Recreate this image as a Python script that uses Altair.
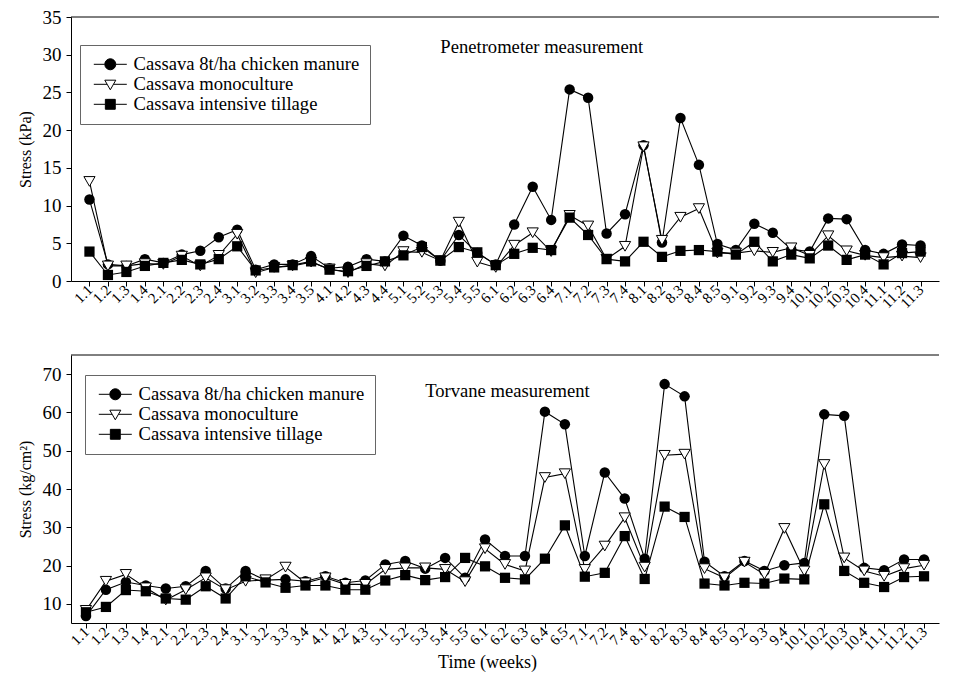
import altair as alt
import pandas as pd

SERIES = ["Cassava 8t/ha chicken manure", "Cassava monoculture", "Cassava intensive tillage"]

# ---- Penetrometer (top) ----
top_labels = ["1.1","1.2","1.3","1.4","2.1","2.2","2.3","2.4","3.1","3.2","3.3","3.4","3.5",
              "4.1","4.2","4.3","4.4","5.1","5.2","5.3","5.4","5.5","6.1","6.2","6.3","6.4",
              "7.1","7.2","7.3","7.4","8.1","8.2","8.3","8.4","8.5","9.1","9.2","9.3","9.4",
              "10.1","10.2","10.3","10.4","11.1","11.2","11.3"]
top_manure = [10.8, 2.2, 2.0, 2.9, 2.4, 3.5, 4.0, 5.8, 6.8, 1.5, 2.2, 2.2, 3.3,
              1.7, 1.9, 2.9, 2.6, 6.0, 4.7, 2.7, 6.1, 3.7, 2.2, 7.5, 12.5, 8.1,
              25.4, 24.3, 6.3, 8.85, 18.0, 5.1, 21.6, 15.4, 4.9, 4.1, 7.6, 6.4, 4.2,
              3.9, 8.3, 8.2, 4.1, 3.6, 4.85, 4.7]
top_mono = [13.2, 2.0, 2.0, 2.3, 2.2, 3.3, 2.0, 3.4, 6.2, 1.1, 1.8, 2.0, 2.5,
            1.6, 1.1, 2.3, 2.0, 3.9, 3.8, 2.7, 7.8, 2.5, 1.8, 4.75, 6.4, 3.9,
            8.7, 7.3, 2.9, 4.6, 17.8, 5.4, 8.45, 9.6, 3.7, 3.7, 4.0, 3.8, 4.4,
            3.4, 6.0, 4.0, 3.4, 3.1, 3.3, 3.1]
top_tillage = [3.9, 0.8, 1.2, 2.0, 2.4, 2.8, 2.2, 2.9, 4.6, 1.4, 1.8, 2.1, 2.6,
               1.5, 1.3, 2.0, 2.6, 3.4, 4.5, 2.7, 4.5, 3.8, 2.1, 3.6, 4.4, 4.1,
               8.4, 6.1, 2.9, 2.6, 5.2, 3.2, 4.0, 4.1, 3.9, 3.5, 5.2, 2.6, 3.5,
               3.0, 4.7, 2.8, 3.5, 2.2, 3.7, 3.9]

# ---- Torvane (bottom) ----
bot_labels = ["1.1","1.2","1.3","1.4","2.1","2.2","2.3","2.4","3.1","3.2","3.3","3.4",
              "4.1","4.2","4.3","5.1","5.2","5.3","5.4","5.5","6.1","6.2","6.3","6.4","6.5",
              "7.1","7.2","7.4","8.1","8.2","8.3","8.4","8.5","9.2","9.3","9.4",
              "10.1","10.2","10.3","10.4","11.1","11.2","11.3"]
bot_manure = [6.8, 13.7, 15.7, 14.8, 14.0, 14.6, 18.6, 14.0, 18.6, 16.2, 16.4, 15.9,
              17.2, 15.5, 16.1, 20.3, 21.2, 19.2, 22.0, 16.8, 26.8, 22.5, 22.5, 60.2, 56.9,
              22.5, 44.3, 37.5, 21.8, 67.4, 64.2, 21.0, 17.2, 21.2, 18.6, 20.1,
              20.7, 59.5, 59.1, 19.4, 18.8, 21.6, 21.6]
bot_mono = [8.3, 15.9, 17.7, 14.2, 11.0, 13.7, 16.8, 13.7, 15.9, 16.3, 19.6, 15.5,
            16.8, 15.1, 15.1, 19.0, 19.4, 19.4, 19.0, 15.8, 24.4, 20.3, 18.6, 43.0, 44.0,
            19.0, 25.1, 32.5, 19.6, 48.8, 49.1, 19.2, 16.8, 20.9, 17.7, 29.7,
            18.6, 46.4, 22.0, 18.6, 17.2, 19.2, 20.1]
bot_tillage = [7.8, 9.2, 13.6, 13.3, 11.4, 11.1, 14.6, 11.4, 17.2, 15.6, 14.2, 14.8,
               14.8, 13.7, 13.7, 16.1, 17.5, 16.2, 17.0, 22.0, 19.8, 16.8, 16.4, 21.8, 30.5,
               17.1, 18.1, 27.7, 16.5, 35.4, 32.7, 15.3, 14.8, 15.5, 15.3, 16.6,
               16.4, 36.0, 18.6, 15.5, 14.4, 17.0, 17.2]

FONT = "Liberation Serif"

LEGEND_PATHS = [
    "M-3,0H-1M1,0A1,1 0 1,1 -1,0A1,1 0 1,1 1,0ZM1,0H3",
    "M-3,0H-0.6M-1,-0.75L1,-0.75L0,1ZM0.6,0H3",
    "M-3,0H-0.9M-0.9,-0.9H0.9V0.9H-0.9ZM0.9,0H3",
]


def long_frame(labels, a, b, c):
    rows = []
    for s, vals in zip(SERIES, [a, b, c]):
        for lab, v in zip(labels, vals):
            rows.append({"label": lab, "value": v, "series": s})
    return pd.DataFrame(rows)


def panel(labels, a, b, c, ydom, yvals, ytitle, xtitle, note, note_x, note_y,
          width, height, pad, leg_x, leg_y):
    df = long_frame(labels, a, b, c)
    axis_kw = dict(labelAngle=-45, labelAlign="right", labelBaseline="middle",
                   labelFontSize=15, labelPadding=1, tickSize=5)
    if xtitle:
        xaxis = alt.Axis(title=xtitle, titleFontSize=18, titleFontWeight="normal",
                         titlePadding=0, titleX=416, **axis_kw)
    else:
        xaxis = alt.Axis(title=None, **axis_kw)
    x = alt.X("label:N", scale=alt.Scale(type="point", domain=labels, padding=pad), axis=xaxis)
    y = alt.Y("value:Q", scale=alt.Scale(domain=ydom, nice=False, zero=False),
              axis=alt.Axis(values=yvals, title=ytitle, titleFontSize=16,
                            titleFontWeight="normal", labelFontSize=19, tickSize=5,
                            labelPadding=5, titlePadding=9))
    base = alt.Chart(df)
    lines = base.mark_line(color="black", strokeWidth=1.1).encode(x=x, y=y, detail="series:N")
    p1 = base.transform_filter(alt.datum.series == SERIES[0]).mark_point(
        shape="circle", filled=True, color="black", size=110, opacity=1).encode(x=x, y=y)
    p2 = base.transform_filter(alt.datum.series == SERIES[1]).mark_point(
        shape="triangle-down", filled=True, fill="white", stroke="black", strokeWidth=1,
        size=125, opacity=1).encode(x=x, y=y)
    p3 = base.transform_filter(alt.datum.series == SERIES[2]).mark_point(
        shape="square", filled=True, color="black", size=105, opacity=1).encode(x=x, y=y)
    leg = alt.Legend(title=None, orient="none", legendX=leg_x, legendY=leg_y,
                     strokeColor="#666666", fillColor="white", padding=10,
                     labelFont=FONT, labelFontSize=18.6, labelColor="black", labelLimit=500,
                     symbolSize=121, symbolStrokeColor="black", symbolStrokeWidth=1,
                     symbolOffset=11, labelOffset=14, rowPadding=1, symbolOpacity=1)
    legend_layer = base.transform_filter("false").mark_point(
        filled=False, strokeWidth=1, opacity=1).encode(
        x=x, y=y,
        shape=alt.Shape("series:N", scale=alt.Scale(domain=SERIES, range=LEGEND_PATHS), legend=leg),
        fill=alt.Fill("series:N", scale=alt.Scale(domain=SERIES, range=["black", "white", "black"]), legend=leg),
        stroke=alt.Stroke("series:N", scale=alt.Scale(domain=SERIES, range=["black", "black", "black"]), legend=leg),
    )
    note_df = pd.DataFrame({"label": [note_x], "value": [note_y], "text": [note]})
    text = alt.Chart(note_df).mark_text(align="left", baseline="middle", font=FONT,
                                        fontSize=18.6, color="black").encode(x=x, y=y, text="text:N")
    border = alt.Chart(pd.DataFrame({"value": [ydom[1]]})).mark_rule(color="black", strokeWidth=1).encode(
        y=y, x=alt.value(0), x2=alt.value(width))
    return alt.layer(lines, p1, p2, p3, legend_layer, text, border).properties(width=width, height=height)


top = panel(top_labels, top_manure, top_mono, top_tillage, [0, 35], list(range(0, 36, 5)),
            "Stress (kPa)", None, "Penetrometer measurement", "5.3", 31.0,
            868, 264, 1.0, 9, 28)
bottom = panel(bot_labels, bot_manure, bot_mono, bot_tillage, [5, 75], list(range(10, 71, 10)),
               "Stress (kg/cm²)", "Time (weeks)", "Torvane measurement", "5.3", 65.5,
               868, 268, 0.75, 14, 20)

chart = alt.vconcat(top, bottom, spacing=42).resolve_scale(
    shape="independent", fill="independent", stroke="independent").resolve_legend(
    shape="independent", fill="independent", stroke="independent").properties(
    padding={"left": 9, "top": 0, "right": 0, "bottom": 0}).configure(
    font=FONT, background="white").configure_view(stroke=None).configure_axis(
    domainColor="black", tickColor="black", labelColor="black", titleColor="black",
    labelFont=FONT, titleFont=FONT, grid=False, domainWidth=1, tickWidth=1)

chart.save("out.html", embed_options={"renderer": "svg", "actions": False})
